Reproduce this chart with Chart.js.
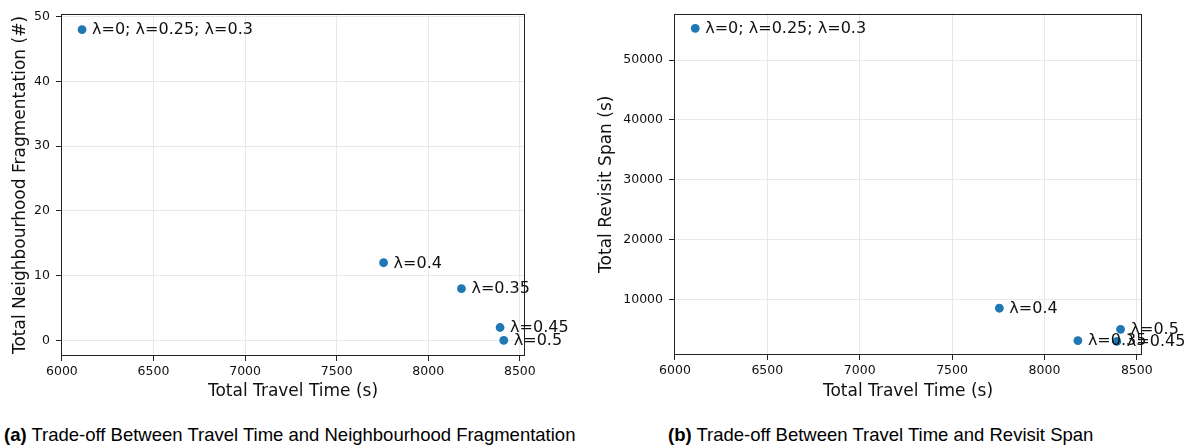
<!DOCTYPE html>
<html>
<head>
<meta charset="utf-8">
<script src="https://cdn.jsdelivr.net/npm/chart.js@4.4.1/dist/chart.umd.min.js"></script>
<style>
  body { margin: 0; background: #fff; width: 1192px; height: 446px; overflow: hidden; position: relative; }
  canvas { position: absolute; top: 0; }
  #fragChart { left: 0; }
  #spanChart { left: 596px; }
  .caption { position: absolute; top: 425px; font-family: 'Liberation Sans', Arial, sans-serif; font-size: 18.5px; line-height: 20px; color: #000; white-space: nowrap; }
</style>
</head>
<body>
<canvas id="fragChart" width="596" height="410"></canvas>
<canvas id="spanChart" width="596" height="410"></canvas>
<div class="caption" style="left:4px"><b>(a)</b> Trade-off Between Travel Time and Neighbourhood Fragmentation</div>
<div class="caption" style="left:668px"><b>(b)</b> Trade-off Between Travel Time and Revisit Span</div>
<script>
// one entry per lambda setting (first entry covers three settings with identical results)
var lambdaLabels = ['λ=0; λ=0.25; λ=0.3', 'λ=0.4', 'λ=0.35', 'λ=0.45', 'λ=0.5'];
var travelTime = [6110, 7756, 8181, 8392, 8412];
var fragmentation = [48, 12, 8, 2, 0];
var revisitSpan = [55300, 8500, 3100, 2950, 4980];

var xTicks = [6000, 6500, 7000, 7500, 8000, 8500];
var fragTicks = [0, 10, 20, 30, 40, 50];
var spanTicks = [10000, 20000, 30000, 40000, 50000];

var dotColor = '#1f77b4';
var fontFamily = "'DejaVu Sans', sans-serif";

function toPoints(xs, ys) {
  return xs.map(function (x, i) { return { x: x, y: ys[i] }; });
}

function plainNumber(v) { return String(v); }

// box round the plot plus the text next to each dot
function frameAndLabels(labels) {
  return {
    id: 'frameAndLabels',
    afterDatasetsDraw: function (chart) {
      var ctx = chart.ctx, a = chart.chartArea;
      var l = Math.round(a.left), t = Math.round(a.top), r = Math.round(a.right), b = Math.round(a.bottom);
      ctx.save();
      ctx.strokeStyle = '#222';
      ctx.lineWidth = 1;
      ctx.strokeRect(l + 0.5, t + 0.5, r - l - 1, b - t - 1);
      ctx.fillStyle = '#111';
      ctx.font = '16px ' + fontFamily;
      ctx.textBaseline = 'alphabetic';
      ctx.textAlign = 'left';
      chart.getDatasetMeta(0).data.forEach(function (pt, i) {
        ctx.fillText(labels[i], pt.x + 10, pt.y + 4.8);
      });
      ctx.restore();
    }
  };
}

function makeChart(id, ys, opts) {
  var ctx = document.getElementById(id).getContext('2d');
  return new Chart(ctx, {
    type: 'scatter',
    data: {
      datasets: [{
        data: toPoints(travelTime, ys),
        backgroundColor: dotColor,
        borderColor: dotColor,
        borderWidth: 0,
        pointRadius: 4.4,
        pointHoverRadius: 4.4
      }]
    },
    options: {
      responsive: false,
      animation: false,
      devicePixelRatio: 1,
      events: [],
      layout: { padding: { left: 0, top: opts.top, right: opts.right, bottom: 0 } },
      plugins: { legend: { display: false }, tooltip: { enabled: false } },
      scales: {
        x: {
          type: 'linear',
          min: 5995,
          max: 8528,
          afterBuildTicks: function (scale) {
            scale.ticks = xTicks.map(function (v) { return { value: v }; });
          },
          afterFit: function (scale) { scale.height = opts.xHeight; },
          ticks: { color: '#111', font: { family: fontFamily, size: 12.5 }, padding: 3, maxRotation: 0, callback: plainNumber },
          grid: { color: '#e8e8e8', lineWidth: 1, tickColor: '#222', tickLength: 5 },
          border: { display: false },
          title: {
            display: true,
            text: 'Total Travel Time (s)',
            color: '#111',
            font: { family: fontFamily, size: 17 },
            padding: { top: 0, bottom: 8 }
          }
        },
        y: {
          type: 'linear',
          min: opts.yMin,
          max: opts.yMax,
          afterBuildTicks: function (scale) {
            scale.ticks = opts.yTicks.map(function (v) { return { value: v }; });
          },
          afterFit: function (scale) { scale.width = opts.yWidth; },
          ticks: { color: '#111', font: { family: fontFamily, size: 12.5 }, padding: 6, callback: plainNumber },
          grid: { color: '#e8e8e8', lineWidth: 1, tickColor: '#222', tickLength: 5 },
          border: { display: false },
          title: {
            display: true,
            text: opts.yTitle,
            color: '#111',
            font: { family: fontFamily, size: 17 },
            padding: { top: opts.yTitlePad, bottom: 0 }
          }
        }
      }
    },
    plugins: [frameAndLabels(lambdaLabels)]
  });
}

makeChart('fragChart', fragmentation, {
  top: 14, right: 71, xHeight: 54, yWidth: 61,
  yMin: -2.4, yMax: 50.4, yTicks: fragTicks, yTitlePad: 10,
  yTitle: 'Total Neighbourhood Fragmentation (#)'
});

makeChart('spanChart', revisitSpan, {
  top: 10, right: 50, xHeight: 55, yWidth: 78,
  yMin: 680, yMax: 57780, yTicks: spanTicks, yTitlePad: 0,
  yTitle: 'Total Revisit Span (s)'
});
</script>
</body>
</html>
